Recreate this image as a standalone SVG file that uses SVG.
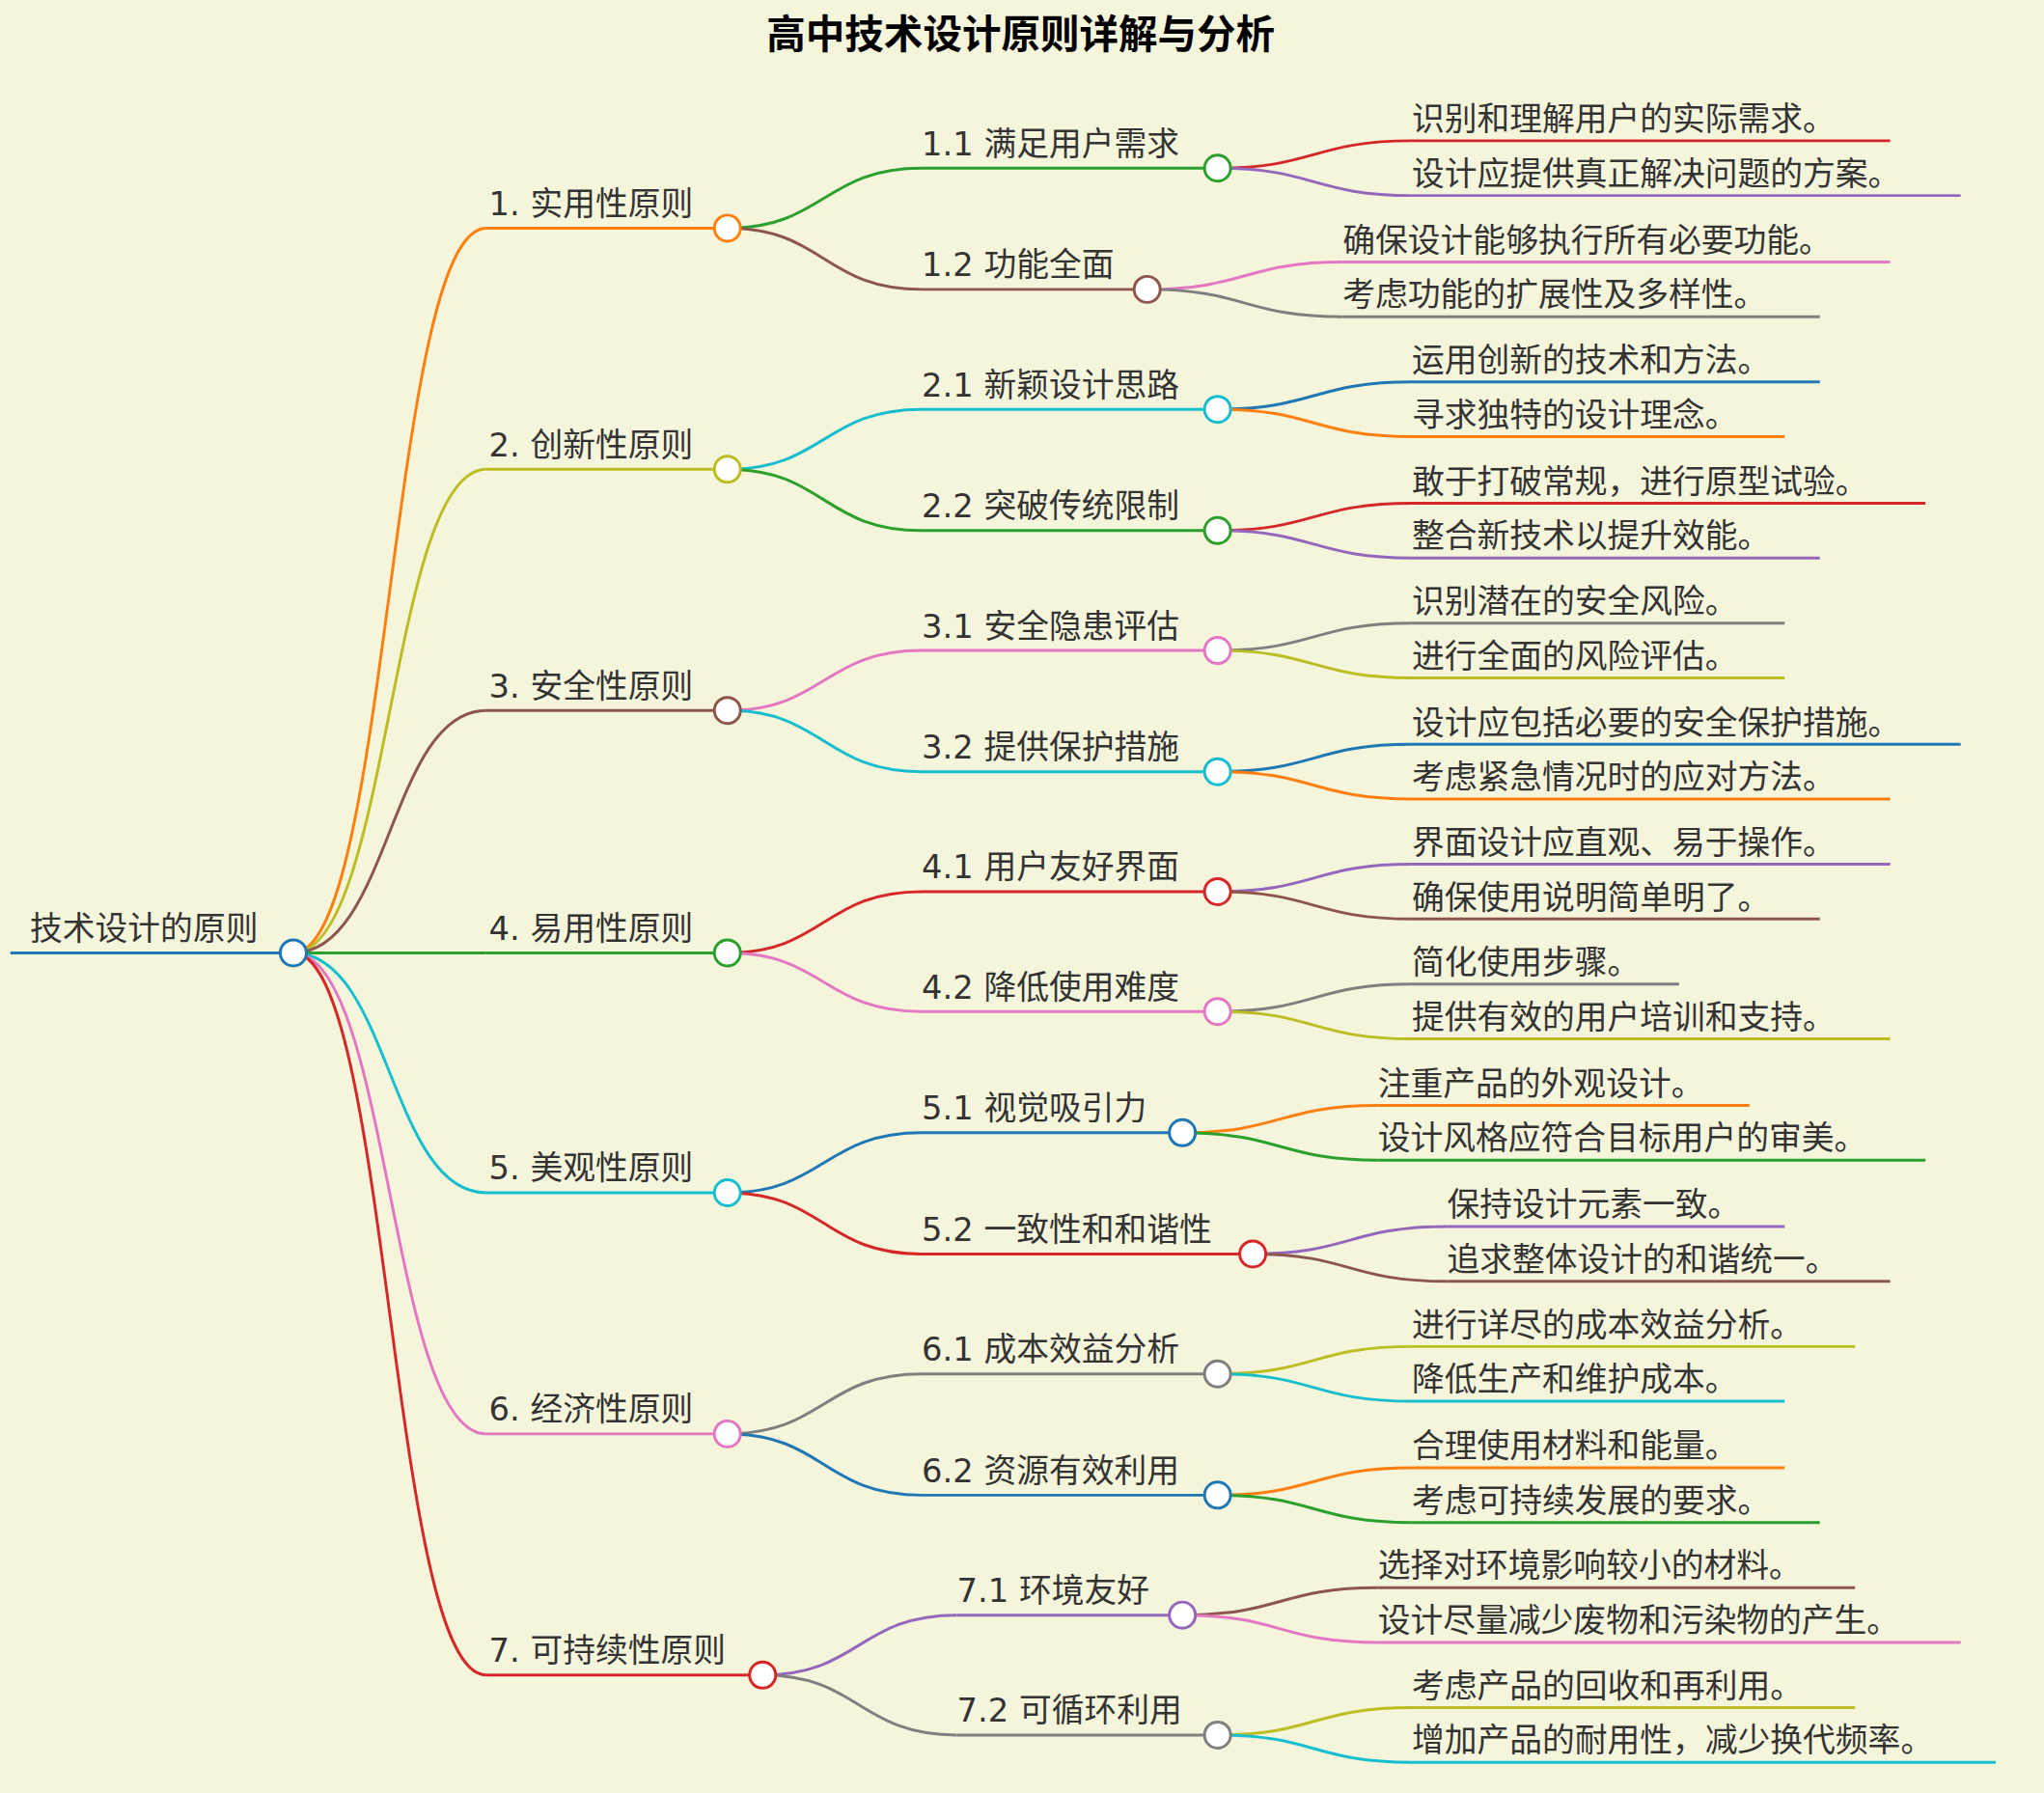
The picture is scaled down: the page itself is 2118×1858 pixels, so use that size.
<svg xmlns="http://www.w3.org/2000/svg" width="2118" height="1858" viewBox="0 0 2118 1858">
<style>
text{font-family:"DejaVu Sans","Noto Sans CJK SC",sans-serif;font-size:25px;fill:#333}
.t{font-size:30px;font-weight:bold;fill:#000;text-anchor:middle}
path,line{fill:none;stroke-width:2.2}
circle{fill:#fff;stroke-width:2.2}
.bl{stroke:#1f77b4}.or{stroke:#ff7f0e}.gr{stroke:#2ca02c}.rd{stroke:#d62728}.pu{stroke:#9467bd}.br{stroke:#8c564b}.pk{stroke:#e377c2}.gy{stroke:#7f7f7f}.ol{stroke:#bcbd22}.cy{stroke:#17becf}
</style>
<rect width="2118" height="1858" fill="#f5f5dc"/>
<g transform="scale(1.3508)">
<text class="t" x="783" y="37">高中技术设计原则详解与分析</text>
<g id="connectors">
<path class="or" d="M225,731 C299,731 299,175 373,175"/>
<path class="ol" d="M225,731 C299,731 299,360 373,360"/>
<path class="br" d="M225,731 C299,731 299,545 373,545"/>
<path class="gr" d="M225,731 L373,731"/>
<path class="cy" d="M225,731 C299,731 299,915 373,915"/>
<path class="pk" d="M225,731 C299,731 299,1100 373,1100"/>
<path class="rd" d="M225,731 C299,731 299,1285 373,1285"/>
<path class="gr" d="M558,175 C632,175 632,129 707,129"/>
<path class="br" d="M558,175 C632,175 632,222 707,222"/>
<path class="cy" d="M558,360 C632,360 632,314 707,314"/>
<path class="gr" d="M558,360 C632,360 632,407 707,407"/>
<path class="pk" d="M558,545 C632,545 632,499 707,499"/>
<path class="cy" d="M558,545 C632,545 632,592 707,592"/>
<path class="rd" d="M558,731 C632,731 632,684 707,684"/>
<path class="pk" d="M558,731 C632,731 632,776 707,776"/>
<path class="bl" d="M558,915 C632,915 632,869 707,869"/>
<path class="rd" d="M558,915 C632,915 632,962 707,962"/>
<path class="gy" d="M558,1100 C632,1100 632,1054 707,1054"/>
<path class="bl" d="M558,1100 C632,1100 632,1147 707,1147"/>
<path class="pu" d="M585,1285 C659,1285 659,1239 734,1239"/>
<path class="gy" d="M585,1285 C659,1285 659,1331 734,1331"/>
<path class="rd" d="M934,129 C1008,129 1008,108 1083,108"/>
<path class="pu" d="M934,129 C1008,129 1008,150 1083,150"/>
<path class="pk" d="M880,222 C955,222 955,201 1030,201"/>
<path class="gy" d="M880,222 C955,222 955,243 1030,243"/>
<path class="bl" d="M934,314 C1008,314 1008,293 1083,293"/>
<path class="or" d="M934,314 C1008,314 1008,335 1083,335"/>
<path class="rd" d="M934,407 C1008,407 1008,386 1083,386"/>
<path class="pu" d="M934,407 C1008,407 1008,428 1083,428"/>
<path class="gy" d="M934,499 C1008,499 1008,478 1083,478"/>
<path class="ol" d="M934,499 C1008,499 1008,520 1083,520"/>
<path class="bl" d="M934,592 C1008,592 1008,571 1083,571"/>
<path class="or" d="M934,592 C1008,592 1008,613 1083,613"/>
<path class="pu" d="M934,684 C1008,684 1008,663 1083,663"/>
<path class="br" d="M934,684 C1008,684 1008,705 1083,705"/>
<path class="gy" d="M934,776 C1008,776 1008,755 1083,755"/>
<path class="ol" d="M934,776 C1008,776 1008,797 1083,797"/>
<path class="or" d="M907,869 C982,869 982,848 1057,848"/>
<path class="gr" d="M907,869 C982,869 982,890 1057,890"/>
<path class="pu" d="M961,962 C1035,962 1035,941 1110,941"/>
<path class="br" d="M961,962 C1035,962 1035,983 1110,983"/>
<path class="ol" d="M934,1054 C1008,1054 1008,1033 1083,1033"/>
<path class="cy" d="M934,1054 C1008,1054 1008,1075 1083,1075"/>
<path class="or" d="M934,1147 C1008,1147 1008,1126 1083,1126"/>
<path class="gr" d="M934,1147 C1008,1147 1008,1168 1083,1168"/>
<path class="br" d="M907,1239 C982,1239 982,1218 1057,1218"/>
<path class="pk" d="M907,1239 C982,1239 982,1260 1057,1260"/>
<path class="ol" d="M934,1331 C1008,1331 1008,1310 1083,1310"/>
<path class="cy" d="M934,1331 C1008,1331 1008,1352 1083,1352"/>
</g>
<g id="root"><line class="bl" x1="8" y1="731" x2="225" y2="731"/><text x="23" y="721">技术设计的原则</text><circle class="bl" cx="225" cy="731" r="10"/></g>
<g id="n1"><line class="or" x1="373" y1="175" x2="558" y2="175"/><text x="375" y="165">1. 实用性原则</text><circle class="or" cx="558" cy="175" r="10"/></g>
<g id="n2"><line class="ol" x1="373" y1="360" x2="558" y2="360"/><text x="375" y="350">2. 创新性原则</text><circle class="ol" cx="558" cy="360" r="10"/></g>
<g id="n3"><line class="br" x1="373" y1="545" x2="558" y2="545"/><text x="375" y="535">3. 安全性原则</text><circle class="br" cx="558" cy="545" r="10"/></g>
<g id="n4"><line class="gr" x1="373" y1="731" x2="558" y2="731"/><text x="375" y="721">4. 易用性原则</text><circle class="gr" cx="558" cy="731" r="10"/></g>
<g id="n5"><line class="cy" x1="373" y1="915" x2="558" y2="915"/><text x="375" y="905">5. 美观性原则</text><circle class="cy" cx="558" cy="915" r="10"/></g>
<g id="n6"><line class="pk" x1="373" y1="1100" x2="558" y2="1100"/><text x="375" y="1090">6. 经济性原则</text><circle class="pk" cx="558" cy="1100" r="10"/></g>
<g id="n7"><line class="rd" x1="373" y1="1285" x2="585" y2="1285"/><text x="375" y="1275">7. 可持续性原则</text><circle class="rd" cx="585" cy="1285" r="10"/></g>
<g id="n1_1"><line class="gr" x1="707" y1="129" x2="934" y2="129"/><text x="707" y="119">1.1 满足用户需求</text><circle class="gr" cx="934" cy="129" r="10"/></g>
<g id="n1_2"><line class="br" x1="707" y1="222" x2="880" y2="222"/><text x="707" y="212">1.2 功能全面</text><circle class="br" cx="880" cy="222" r="10"/></g>
<g id="n2_1"><line class="cy" x1="707" y1="314" x2="934" y2="314"/><text x="707" y="304">2.1 新颖设计思路</text><circle class="cy" cx="934" cy="314" r="10"/></g>
<g id="n2_2"><line class="gr" x1="707" y1="407" x2="934" y2="407"/><text x="707" y="397">2.2 突破传统限制</text><circle class="gr" cx="934" cy="407" r="10"/></g>
<g id="n3_1"><line class="pk" x1="707" y1="499" x2="934" y2="499"/><text x="707" y="489">3.1 安全隐患评估</text><circle class="pk" cx="934" cy="499" r="10"/></g>
<g id="n3_2"><line class="cy" x1="707" y1="592" x2="934" y2="592"/><text x="707" y="582">3.2 提供保护措施</text><circle class="cy" cx="934" cy="592" r="10"/></g>
<g id="n4_1"><line class="rd" x1="707" y1="684" x2="934" y2="684"/><text x="707" y="674">4.1 用户友好界面</text><circle class="rd" cx="934" cy="684" r="10"/></g>
<g id="n4_2"><line class="pk" x1="707" y1="776" x2="934" y2="776"/><text x="707" y="766">4.2 降低使用难度</text><circle class="pk" cx="934" cy="776" r="10"/></g>
<g id="n5_1"><line class="bl" x1="707" y1="869" x2="907" y2="869"/><text x="707" y="859">5.1 视觉吸引力</text><circle class="bl" cx="907" cy="869" r="10"/></g>
<g id="n5_2"><line class="rd" x1="707" y1="962" x2="961" y2="962"/><text x="707" y="952">5.2 一致性和和谐性</text><circle class="rd" cx="961" cy="962" r="10"/></g>
<g id="n6_1"><line class="gy" x1="707" y1="1054" x2="934" y2="1054"/><text x="707" y="1044">6.1 成本效益分析</text><circle class="gy" cx="934" cy="1054" r="10"/></g>
<g id="n6_2"><line class="bl" x1="707" y1="1147" x2="934" y2="1147"/><text x="707" y="1137">6.2 资源有效利用</text><circle class="bl" cx="934" cy="1147" r="10"/></g>
<g id="n7_1"><line class="pu" x1="734" y1="1239" x2="907" y2="1239"/><text x="734" y="1229">7.1 环境友好</text><circle class="pu" cx="907" cy="1239" r="10"/></g>
<g id="n7_2"><line class="gy" x1="734" y1="1331" x2="934" y2="1331"/><text x="734" y="1321">7.2 可循环利用</text><circle class="gy" cx="934" cy="1331" r="10"/></g>
<g id="leaves">
<g id="l1_1a"><line class="rd" x1="1083" y1="108" x2="1450" y2="108"/><text x="1083" y="100">识别和理解用户的实际需求。</text></g>
<g id="l1_1b"><line class="pu" x1="1083" y1="150" x2="1504" y2="150"/><text x="1083" y="142">设计应提供真正解决问题的方案。</text></g>
<g id="l1_2a"><line class="pk" x1="1030" y1="201" x2="1450" y2="201"/><text x="1030" y="193">确保设计能够执行所有必要功能。</text></g>
<g id="l1_2b"><line class="gy" x1="1030" y1="243" x2="1396" y2="243"/><text x="1030" y="235">考虑功能的扩展性及多样性。</text></g>
<g id="l2_1a"><line class="bl" x1="1083" y1="293" x2="1396" y2="293"/><text x="1083" y="285">运用创新的技术和方法。</text></g>
<g id="l2_1b"><line class="or" x1="1083" y1="335" x2="1369" y2="335"/><text x="1083" y="327">寻求独特的设计理念。</text></g>
<g id="l2_2a"><line class="rd" x1="1083" y1="386" x2="1477" y2="386"/><text x="1083" y="378">敢于打破常规，进行原型试验。</text></g>
<g id="l2_2b"><line class="pu" x1="1083" y1="428" x2="1396" y2="428"/><text x="1083" y="420">整合新技术以提升效能。</text></g>
<g id="l3_1a"><line class="gy" x1="1083" y1="478" x2="1369" y2="478"/><text x="1083" y="470">识别潜在的安全风险。</text></g>
<g id="l3_1b"><line class="ol" x1="1083" y1="520" x2="1369" y2="520"/><text x="1083" y="512">进行全面的风险评估。</text></g>
<g id="l3_2a"><line class="bl" x1="1083" y1="571" x2="1504" y2="571"/><text x="1083" y="563">设计应包括必要的安全保护措施。</text></g>
<g id="l3_2b"><line class="or" x1="1083" y1="613" x2="1450" y2="613"/><text x="1083" y="605">考虑紧急情况时的应对方法。</text></g>
<g id="l4_1a"><line class="pu" x1="1083" y1="663" x2="1450" y2="663"/><text x="1083" y="655">界面设计应直观、易于操作。</text></g>
<g id="l4_1b"><line class="br" x1="1083" y1="705" x2="1396" y2="705"/><text x="1083" y="697">确保使用说明简单明了。</text></g>
<g id="l4_2a"><line class="gy" x1="1083" y1="755" x2="1288" y2="755"/><text x="1083" y="747">简化使用步骤。</text></g>
<g id="l4_2b"><line class="ol" x1="1083" y1="797" x2="1450" y2="797"/><text x="1083" y="789">提供有效的用户培训和支持。</text></g>
<g id="l5_1a"><line class="or" x1="1057" y1="848" x2="1342" y2="848"/><text x="1057" y="840">注重产品的外观设计。</text></g>
<g id="l5_1b"><line class="gr" x1="1057" y1="890" x2="1477" y2="890"/><text x="1057" y="882">设计风格应符合目标用户的审美。</text></g>
<g id="l5_2a"><line class="pu" x1="1110" y1="941" x2="1369" y2="941"/><text x="1110" y="933">保持设计元素一致。</text></g>
<g id="l5_2b"><line class="br" x1="1110" y1="983" x2="1450" y2="983"/><text x="1110" y="975">追求整体设计的和谐统一。</text></g>
<g id="l6_1a"><line class="ol" x1="1083" y1="1033" x2="1423" y2="1033"/><text x="1083" y="1025">进行详尽的成本效益分析。</text></g>
<g id="l6_1b"><line class="cy" x1="1083" y1="1075" x2="1369" y2="1075"/><text x="1083" y="1067">降低生产和维护成本。</text></g>
<g id="l6_2a"><line class="or" x1="1083" y1="1126" x2="1369" y2="1126"/><text x="1083" y="1118">合理使用材料和能量。</text></g>
<g id="l6_2b"><line class="gr" x1="1083" y1="1168" x2="1396" y2="1168"/><text x="1083" y="1160">考虑可持续发展的要求。</text></g>
<g id="l7_1a"><line class="br" x1="1057" y1="1218" x2="1423" y2="1218"/><text x="1057" y="1210">选择对环境影响较小的材料。</text></g>
<g id="l7_1b"><line class="pk" x1="1057" y1="1260" x2="1504" y2="1260"/><text x="1057" y="1252">设计尽量减少废物和污染物的产生。</text></g>
<g id="l7_2a"><line class="ol" x1="1083" y1="1310" x2="1423" y2="1310"/><text x="1083" y="1302">考虑产品的回收和再利用。</text></g>
<g id="l7_2b"><line class="cy" x1="1083" y1="1352" x2="1531" y2="1352"/><text x="1083" y="1344">增加产品的耐用性，减少换代频率。</text></g>
</g>
</g>
</svg>
